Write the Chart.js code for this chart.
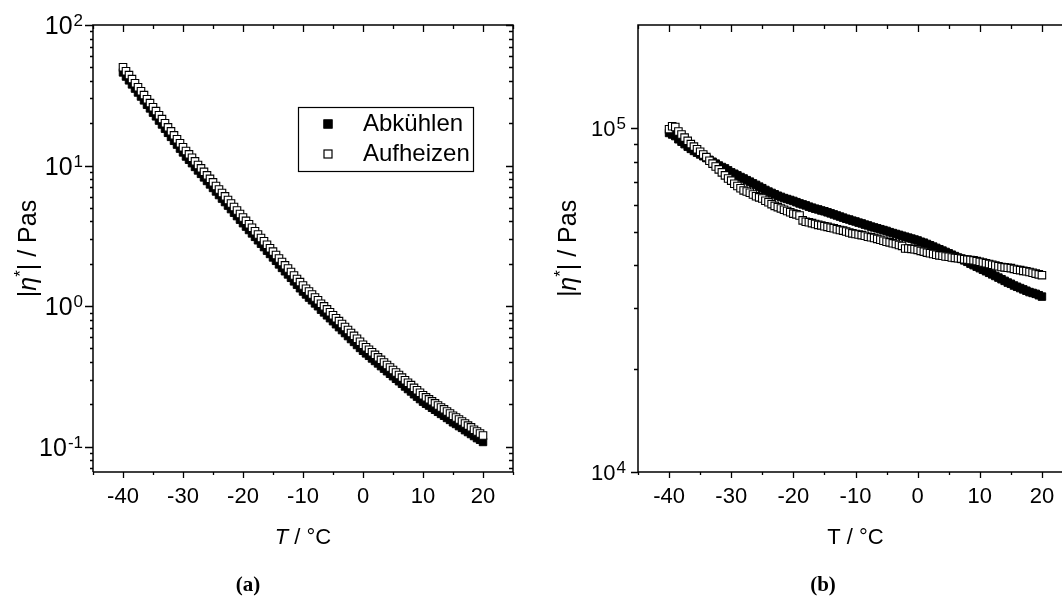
<!DOCTYPE html>
<html><head><meta charset="utf-8">
<script src="https://cdn.jsdelivr.net/npm/chart.js@4.4.0/dist/chart.umd.min.js"></script>
<style>
html,body{margin:0;padding:0;background:#fff;overflow:hidden;width:1062px;height:599px;}
#wa{position:absolute;left:0;top:0;width:540px;height:599px;}
#wb{position:absolute;left:540px;top:0;width:560px;height:599px;}
canvas{display:block;}
</style></head><body>
<div id="wa"><canvas id="ca" width="540" height="599"></canvas></div>
<div id="wb"><canvas id="cb" width="560" height="599"></canvas></div>
<script>
// ---------- data ----------
const temps = [-40,-39.5,-39,-38.5,-38,-37.5,-37,-36.5,-36,-35.5,-35,-34.5,-34,-33.5,-33,-32.5,-32,-31.5,-31,-30.5,-30,
  -29.5,-29,-28.5,-28,-27.5,-27,-26.5,-26,-25.5,-25,-24.5,-24,-23.5,-23,-22.5,-22,-21.5,-21,-20.5,-20,
  -19.5,-19,-18.5,-18,-17.5,-17,-16.5,-16,-15.5,-15,-14.5,-14,-13.5,-13,-12.5,-12,-11.5,-11,-10.5,-10,
  -9.5,-9,-8.5,-8,-7.5,-7,-6.5,-6,-5.5,-5,-4.5,-4,-3.5,-3,-2.5,-2,-1.5,-1,-0.5,0,
  0.5,1,1.5,2,2.5,3,3.5,4,4.5,5,5.5,6,6.5,7,7.5,8,8.5,9,9.5,10,
  10.5,11,11.5,12,12.5,13,13.5,14,14.5,15,15.5,16,16.5,17,17.5,18,18.5,19,19.5,20];

// panel (a): |eta*| / Pas
const abkuehlenA = [46.0,43.0,40.4,37.8,35.3,33.1,31.0,29.1,27.1,25.5,23.8,22.4,20.9,19.6,18.3,17.1,16.0,15.0,14.1,13.2,12.4,
  11.6,11.0,10.4,9.78,9.23,8.73,8.24,7.77,7.34,6.93,6.54,6.17,5.82,5.50,5.19,4.90,4.62,4.37,4.12,3.89,
  3.68,3.48,3.29,3.11,2.94,2.78,2.63,2.48,2.35,2.22,2.10,1.98,1.87,1.77,1.68,1.59,1.50,1.42,1.34,1.27,
  1.21,1.15,1.10,1.045,0.998,0.943,0.902,0.860,0.820,0.781,0.743,0.708,0.675,0.643,0.612,0.583,0.556,0.529,0.504,0.481,
  0.461,0.443,0.424,0.407,0.391,0.374,0.359,0.344,0.330,0.317,0.304,0.292,0.280,0.268,0.257,0.247,0.236,0.227,0.218,0.209,
  0.202,0.196,0.189,0.183,0.177,0.171,0.166,0.160,0.155,0.149,0.145,0.140,0.136,0.131,0.127,0.123,0.119,0.115,0.112,0.108];
const aufheizenA = [50.1,46.9,44.0,41.2,38.5,36.1,33.8,31.7,29.6,27.8,26.0,24.4,22.8,21.4,20.0,18.7,17.5,16.4,15.4,14.4,13.5,
  12.7,12.0,11.35,10.7,10.1,9.55,9.02,8.51,8.04,7.59,7.16,6.76,6.38,6.03,5.69,5.37,5.07,4.79,4.52,4.27,
  4.04,3.82,3.61,3.41,3.23,3.05,2.89,2.73,2.58,2.44,2.31,2.18,2.06,1.95,1.85,1.75,1.65,1.56,1.48,1.40,
  1.33,1.27,1.21,1.15,1.10,1.04,0.995,0.948,0.904,0.861,0.820,0.782,0.745,0.710,0.676,0.644,0.614,0.585,0.557,0.531,
  0.509,0.489,0.469,0.450,0.432,0.414,0.397,0.381,0.366,0.351,0.337,0.323,0.310,0.297,0.285,0.274,0.262,0.252,0.242,0.232,
  0.224,0.217,0.210,0.203,0.196,0.190,0.184,0.178,0.172,0.166,0.161,0.156,0.151,0.146,0.141,0.137,0.132,0.128,0.124,0.120];

// panel (b): |eta*| / Pas
const abkuehlenB = [97000,96000,95000,93000,91500,90000,88500,87200,86000,85000,84000,83000,82000,81000,80000,79000,78000,77200,76500,75500,74500,
  73800,73000,72200,71500,70700,70000,69200,68500,67700,67000,66200,65500,64900,64300,63700,63200,62700,62300,61900,61500,
  61000,60500,60100,59700,59200,58800,58400,58100,57700,57400,57000,56600,56200,55800,55400,55000,54600,54300,53900,53600,
  53200,52900,52500,52200,51800,51500,51200,50900,50600,50300,49900,49600,49300,49000,48700,48400,48100,47800,47500,47200,
  46800,46500,46100,45700,45300,44900,44500,44100,43700,43300,42900,42500,42100,41700,41300,40900,40400,40000,39600,39200,
  38800,38400,38000,37600,37200,36800,36400,36000,35600,35300,34900,34600,34300,34000,33700,33400,33200,33000,32700,32400];
const aufheizenB = [99500,101500,101000,98000,96000,94000,92000,90000,88500,87000,85500,84000,82500,80500,79000,77500,76000,74500,73000,71500,70500,
  69000,68000,67000,66000,65500,65000,64200,63500,63000,62500,61600,61000,60200,59500,59000,58500,58000,57500,57000,56500,
  56200,55800,54000,53500,53300,53000,52700,52400,52200,51900,51700,51400,51200,50900,50600,50400,50100,49800,49500,49300,
  49100,48900,48700,48400,48200,48000,47700,47400,47100,46800,46600,46300,46100,45800,45500,44700,44700,44600,44500,44300,
  44000,43800,43500,43300,43100,42900,42700,42600,42400,42300,42100,42000,41900,41800,41600,41500,41400,41300,41100,40900,
  40700,40500,40300,40100,39900,39700,39500,39400,39300,39200,39000,38800,38700,38500,38400,38200,38000,37800,37600,37400];

const seriesNames = ['Abkühlen','Aufheizen'];

// ---------- ticks ----------
const xTickValues = [-40,-30,-20,-10,0,10,20];
const xTickLabels = ['-40','-30','-20','-10','0','10','20'];
const xMinorTicks = [-45,-35,-25,-15,-5,5,15,25];
const yTickValuesA = [0.1,1,10,100];
const yTickExponentsA = ['-1','0','1','2'];
const yMinorTicksA = [0.07,0.08,0.09,0.2,0.3,0.4,0.5,0.6,0.7,0.8,0.9,2,3,4,5,6,7,8,9,20,30,40,50,60,70,80,90];
const yTickValuesB = [10000,100000];
const yTickExponentsB = ['4','5'];
const yMinorTicksB = [20000,30000,40000,50000,60000,70000,80000,90000];

const SANS = '"Liberation Sans", Arial, sans-serif';
const SERIF = '"Liberation Serif", "Times New Roman", serif';

function pts(xs, ys){ return xs.map((x,i)=>({x:x, y:ys[i]})); }

// ---------- plugins ----------
const frameTicks = {
  id:'frameTicks',
  afterDatasetsDraw(chart, args, o){
    const ctx = chart.ctx, a = chart.chartArea, xs = chart.scales.x, ys = chart.scales.y;
    ctx.save();
    ctx.strokeStyle = '#000';
    ctx.lineWidth = 1.5;
    ctx.beginPath();
    ctx.moveTo(a.left, a.bottom); ctx.lineTo(a.left, a.top); ctx.lineTo(a.right, a.top);
    if (o.rightAxis) { ctx.lineTo(a.right, a.bottom); } else { ctx.moveTo(a.right, a.bottom); }
    ctx.lineTo(a.left, a.bottom);
    ctx.stroke();
    ctx.lineWidth = 1.3;
    ctx.beginPath();
    const seg=(x1,y1,x2,y2)=>{ctx.moveTo(x1,y1);ctx.lineTo(x2,y2);};
    o.xMajor.forEach(v=>{ const p=Math.round(xs.getPixelForValue(v))+0.5;
      seg(p,a.bottom,p,a.bottom+o.bMaj); seg(p,a.top,p,a.top+o.tMaj); });
    o.xMinor.forEach(v=>{ const p=Math.round(xs.getPixelForValue(v))+0.5;
      seg(p,a.bottom,p,a.bottom+o.bMin); seg(p,a.top,p,a.top+o.tMin); });
    o.yMajor.forEach(v=>{ const p=Math.round(ys.getPixelForValue(v))+0.5;
      seg(a.left-o.lMaj,p,a.left,p); if (o.rightAxis) seg(a.right,p,a.right-o.rMaj,p); });
    o.yMinor.forEach(v=>{ const p=Math.round(ys.getPixelForValue(v))+0.5;
      seg(a.left-o.lMin,p,a.left,p); if (o.rightAxis) seg(a.right,p,a.right-o.rMin,p); });
    ctx.stroke();
    // power-of-ten tick labels on the y axis
    ctx.fillStyle = '#000';
    ctx.textBaseline = 'alphabetic';
    ctx.textAlign = 'left';
    const bf = o.baseSize + 'px ' + SANS, ef = o.expSize + 'px ' + SANS;
    o.yMajor.forEach((v,i)=>{
      const p = ys.getPixelForValue(v);
      const e = o.yExp[i];
      ctx.font = bf; const wb = ctx.measureText('10').width;
      ctx.font = ef; const we = ctx.measureText(e).width;
      const x0 = a.left - o.yPad - wb - we - 1;
      ctx.font = bf; ctx.fillText('10', x0, p + o.baseSize*0.36);
      ctx.font = ef; ctx.fillText(e, x0 + wb + 1, p + 1);
    });
    ctx.restore();
  }
};

function drawRich(ctx, segs, cx, cy, rot){
  let w = 0;
  segs.forEach(s=>{ ctx.font = s.f; s.w = ctx.measureText(s.t).width; w += s.w; });
  ctx.save();
  ctx.translate(cx, cy);
  if (rot) ctx.rotate(rot);
  ctx.fillStyle = '#000';
  ctx.textBaseline = 'middle';
  ctx.textAlign = 'left';
  let x = -w/2;
  segs.forEach(s=>{ ctx.font = s.f; ctx.fillText(s.t, x, s.dy||0); x += s.w; });
  ctx.restore();
}

const texts = {
  id:'texts',
  afterDraw(chart, args, o){
    const ctx = chart.ctx, a = chart.chartArea;
    const cxp = (a.left + a.right)/2;
    drawRich(ctx, o.xTitle, cxp, 538, 0);
    drawRich(ctx, o.yTitle, 29, (a.top+a.bottom)/2, -Math.PI/2);
    ctx.save();
    ctx.font = 'bold 21px ' + SERIF;
    ctx.fillStyle = '#000'; ctx.textAlign = 'center'; ctx.textBaseline = 'middle';
    ctx.fillText(o.caption, o.captionX, 586);
    ctx.restore();
  }
};

const boxLegend = {
  id:'boxLegend',
  afterDraw(chart, args, o){
    if (!o.show) return;
    const ctx = chart.ctx;
    ctx.save();
    ctx.strokeStyle = '#000'; ctx.lineWidth = 1.2;
    ctx.strokeRect(o.x+0.5, o.y+0.5, o.w, o.h);
    const order = [1,0];
    ctx.font = '24px ' + SANS; ctx.textBaseline = 'middle'; ctx.textAlign = 'left';
    order.forEach((di, k)=>{
      const ds = chart.data.datasets[di];
      const yy = o.y + o.row0 + k*o.rowH;
      const s = 9;
      ctx.fillStyle = ds.backgroundColor;
      ctx.fillRect(o.x + o.mx - s/2, yy - s/2, s, s);
      ctx.strokeStyle = '#000'; ctx.lineWidth = 1.2;
      ctx.strokeRect(o.x + o.mx - s/2 + 0.5, yy - s/2 + 0.5, s-1, s-1);
      ctx.fillStyle = '#000';
      ctx.fillText(ds.label, o.x + o.tx, yy);
    });
    ctx.restore();
  }
};

function makeChart(id, A, H, yMin, yMax, yVals, opt){
  const ctx = document.getElementById(id);
  return new Chart(ctx, {
    type:'scatter',
    data:{ datasets:[
      { label: seriesNames[1], data: pts(temps, H), order: 0,
        pointStyle:'rect', pointRadius: 5.3, pointHoverRadius: 5.3,
        backgroundColor:'#ffffff', borderColor:'#000000', borderWidth:1.1, showLine:false },
      { label: seriesNames[0], data: pts(temps, A), order: 1,
        pointStyle:'rect', pointRadius: 5.3, pointHoverRadius: 5.3,
        backgroundColor:'#000000', borderColor:'#000000', borderWidth:1, showLine:false }
    ]},
    options:{
      responsive:false, animation:false, devicePixelRatio:1,
      layout:{ padding:{ left:0, right:27, top:25, bottom:0 } },
      plugins:{
        legend:{display:false}, tooltip:{enabled:false},
        frameTicks: opt.frame, texts: opt.texts, boxLegend: opt.legend
      },
      scales:{
        x:{ type:'linear', min:-45, max:25,
          afterBuildTicks: s=>{ s.ticks = xTickValues.map(v=>({value:v})); },
          afterFit: s=>{ s.height = 127; },
          grid:{display:false, drawTicks:false}, border:{display:false},
          ticks:{ autoSkip:false, maxRotation:0, padding:12, color:'#000',
            font:{family:SANS, size:22},
            callback: v=> xTickLabels[xTickValues.indexOf(v)] }
        },
        y:{ type:'logarithmic', min:yMin, max:yMax,
          afterBuildTicks: s=>{ s.ticks = yVals.map(v=>({value:v})); },
          afterFit: s=>{ s.width = opt.yWidth; },
          grid:{display:false, drawTicks:false}, border:{display:false},
          ticks:{ display:false }
        }
      }
    },
    plugins:[frameTicks, texts, boxLegend]
  });
}

const fA = '22px ' + SANS, fAi = 'italic 22px ' + SANS;
const fY = '25px ' + SANS, fYi = 'italic 25px ' + SANS, fSup = '17px ' + SANS;

makeChart('ca', abkuehlenA, aufheizenA, 0.066, 100, yTickValuesA, {
  yWidth:93,
  frame:{ xMajor:xTickValues, xMinor:xMinorTicks, yMajor:yTickValuesA, yMinor:yMinorTicksA, yExp:yTickExponentsA,
    yPad:10, baseSize:25, expSize:17, rightAxis:true,
    bMaj:6, bMin:3, tMaj:7, tMin:4, lMaj:8, lMin:3, rMaj:7, rMin:4 },
  texts:{ xTitle:[{t:'T',f:fAi},{t:' / \u00B0C',f:fA}],
    yTitle:[{t:'|',f:fY},{t:'\u03B7',f:fYi},{t:'*',f:fSup,dy:-8},{t:'| / Pas',f:fY}],
    caption:'(a)', captionX:248 },
  legend:{ show:true, x:298, y:107, w:175, h:64, mx:30, tx:65, row0:17, rowH:30 }
});

makeChart('cb', abkuehlenB, aufheizenB, 10000, 200000, yTickValuesB, {
  yWidth:98,
  frame:{ xMajor:xTickValues, xMinor:xMinorTicks, yMajor:yTickValuesB, yMinor:yMinorTicksB, yExp:yTickExponentsB,
    yPad:12, baseSize:22, expSize:17, rightAxis:false,
    bMaj:6, bMin:3, tMaj:7, tMin:4, lMaj:7, lMin:4, rMaj:7, rMin:4 },
  texts:{ xTitle:[{t:'T / \u00B0C',f:fA}],
    yTitle:[{t:'|',f:fYi},{t:'\u03B7',f:fYi},{t:'*',f:fSup,dy:-8},{t:'| / Pas',f:fY}],
    caption:'(b)', captionX:283 },
  legend:{ show:false }
});
</script>
</body></html>
